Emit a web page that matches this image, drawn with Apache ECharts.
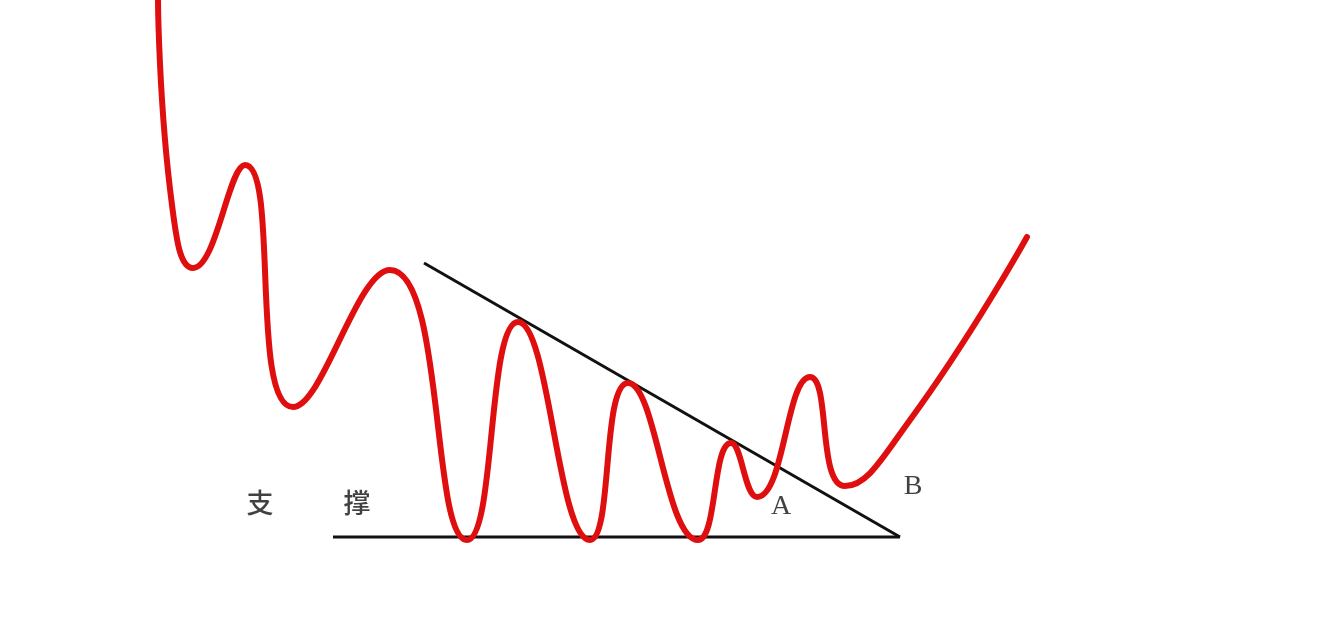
<!DOCTYPE html>
<html>
<head>
<meta charset="utf-8">
<script src="https://cdn.jsdelivr.net/npm/echarts@6/dist/echarts.min.js"></script>
<style>html,body{margin:0;padding:0;background:#fff}#c{width:1328px;height:617px}</style>
</head>
<body>
<div id="c"></div>
<script>
// price path (x, y in picture units; y grows downward)
const priceX = [158,172,193,245,293,390,467,518,590,628,698,731,757,810,845,910,1027];
const priceY = [0,205,268,165,407,270,540,322,540,383,540,443,497,377,486,420,237];
// resistance line (descending) and support line
const resistX = [424, 900];
const resistY = [263, 537];
const supportX = [333, 900];
const supportY = [537, 537];
// annotations
const noteText = ['支', '撑', 'A', 'B'];
const noteX = [260, 357, 781, 913];
const noteY = [503, 503, 507, 487];

const zip = (a, b) => a.map((v, i) => [v, b[i]]);
const isCJK = t => /[\u4e00-\u9fff]/.test(t);
const chart = echarts.init(document.getElementById('c'));
chart.setOption({
  backgroundColor: '#ffffff',
  animation: false,
  grid: {left: 0, right: 0, top: 0, bottom: 0},
  xAxis: {type: 'value', min: 0, max: 1328, show: false},
  yAxis: {type: 'value', min: 0, max: 617, inverse: true, show: false},
  series: [
    {type: 'line', data: zip(resistX, resistY), symbol: 'none', lineStyle: {color: '#111', width: 3}, z: 1},
    {type: 'line', data: zip(supportX, supportY), symbol: 'none', lineStyle: {color: '#111', width: 3}, z: 1},
    {type: 'line', data: zip(priceX, priceY), symbol: 'none', smooth: 0.5,
      lineStyle: {color: '#e00f0f', width: 6, cap: 'round', join: 'round'}, z: 2},
    {type: 'scatter', symbolSize: 0, z: 3,
      data: noteText.map((t, i) => ({
        value: [noteX[i], noteY[i]], name: t,
        label: isCJK(t)
          ? {fontFamily: 'Noto Sans CJK SC', fontWeight: 500, fontSize: 27}
          : {fontFamily: 'Liberation Serif', fontWeight: 'normal', fontSize: 28}
      })),
      label: {show: true, position: 'inside', formatter: p => p.name, color: '#111'}
    }
  ]
});
</script>
</body>
</html>
